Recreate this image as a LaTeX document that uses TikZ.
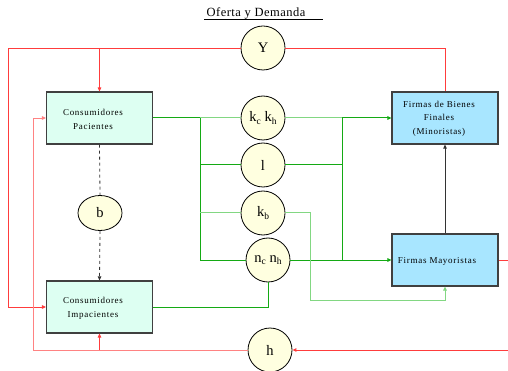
\documentclass[tikz,border=0pt]{standalone}
\usepackage{fontspec}
\setmainfont{Liberation Serif}
\usetikzlibrary{arrows.meta,shapes.geometric}
\definecolor{cfill}{RGB}{221,255,242}
\definecolor{ffill}{RGB}{168,230,255}
\definecolor{yfill}{RGB}{255,255,224}
\definecolor{gdark}{RGB}{20,170,20}
\definecolor{glight}{RGB}{130,215,130}
\definecolor{rdark}{RGB}{255,60,60}
\definecolor{rlight}{RGB}{255,130,130}
\newfontfamily\boxfont[LetterSpace=8]{Liberation Serif}
\newfontfamily\titfont[LetterSpace=4]{Liberation Serif}
\newcommand{\sbs}[1]{\raisebox{-0.35ex}{\fontsize{9.5}{9.5}\selectfont #1}}
\begin{document}
\begin{tikzpicture}[x=1pt,y=-1pt,
  box/.style={draw=black!75,line width=1.1pt,minimum width=106pt,minimum height=52pt,inner sep=0pt},
  cbox/.style={box,fill=cfill},
  fbox/.style={box,fill=ffill},
  btext/.style={font=\boxfont\fontsize{9}{13.5}\selectfont,align=center,inner sep=0pt},
  circ/.style={circle,draw=black,line width=0.8pt,fill=yfill,minimum size=44pt,inner sep=0pt,font=\fontsize{14.5}{14.5}\selectfont},
  gd/.style={draw=gdark,line width=1pt},
  gl/.style={draw=glight,line width=1pt},
  rd/.style={draw=rdark,line width=0.9pt},
  rl/.style={draw=rlight,line width=0.9pt},
  tip/.style={-{Triangle[length=4pt,width=3.5pt]}}]
\useasboundingbox (0,0) rectangle (508,371);
% title
\node[font=\titfont\fontsize{12.5}{12.5}\selectfont,inner sep=0pt] (title) at (256,13) {Oferta y Demanda};
\coordinate (ul1) at (204,19.5);
\coordinate (ul2) at (323,19.5);
\draw[line width=0.7pt] (ul1) -- (ul2);
% boxes
\node[cbox] (cp) at (99.5,118) {};
\node[btext] (cpt) at (93,119.5) {Consumidores\\ Pacientes};
\node[cbox] (ci) at (99.5,307) {};
\node[btext] (cit) at (93,308.5) {Consumidores\\ Impacientes};
\node[fbox] (ff) at (445,118) {};
\node[btext] (fft) at (439,118.5) {Firmas de Bienes\\ Finales\\ (Minoristas)};
\node[fbox] (fm) at (445,260) {};
\node[btext] (fmt) at (437,261) {Firmas Mayoristas};
% circles
\node[circ] (Y) at (263,48) {Y};
\node[circ] (kk) at (263,118) {k\sbs{c} k\sbs{h}};
\node[circ] (l) at (263,165) {l};
\node[circ] (kb) at (263,213) {k\sbs{b}};
\node[circ] (nn) at (268,260) {n\sbs{c} n\sbs{h}};
\node[circ] (h) at (270,350) {h};
\node[ellipse,draw=black,line width=0.8pt,fill=yfill,minimum width=44pt,minimum height=35pt,inner sep=0pt,font=\fontsize{14.5}{14.5}\selectfont] (b) at (100,213) {b};
% junctions
\coordinate (ja) at (200,118);
\coordinate (jb) at (200,260);
\coordinate (jc) at (342,118);
\coordinate (jd) at (342,260);
\coordinate (ke) at (310,300);
\coordinate (r1) at (8,48);
\coordinate (r2) at (33,350);
\coordinate (r3) at (511,260);
\coordinate (r4) at (511,350);
% green connectors
\draw[gd] (cp.east) -- (ja);
\draw[gl] (ja) -- (kk.west);
\draw[gd] (ja) -- (jb) -- (nn.west);
\draw[gd] (l.west -| ja) -- (l.west);
\draw[gl] (kb.west -| ja) -- (kb.west);
\draw[gl] (kk.east) -- (jc);
\draw[gd,tip] (jc) -- (ff.west);
\draw[gd] (l.east) -- (l.east -| jc) -- (jc);
\draw[gd] (jd) -- (l.east -| jc);
\draw[gd,tip] (nn.east) -- (fm.west);
\draw[gl,tip] (kb.east) -| (ke) -| (fm.south);
\draw[gd] (ci.east) -| (nn.south);
% red connectors
\draw[rd,tip] (Y.west) -- (r1) |- (ci.west);
\draw[rd,tip] (Y.west -| cp.north) -- (cp.north);
\draw[rd] (Y.east) -| (ff.north);
\draw[rl,tip] (h.west) -- (r2) |- (cp.west);
\draw[rd,tip] (h.west -| ci.south) -- (ci.south);
\draw[rd] (fm.east) -- (r3) -- (r4);
\draw[rd,tip] (r4) -- (h.east);
% black connectors
\draw[black!80,line width=0.8pt,dashed] (cp.south) -- (b.north);
\draw[black!80,line width=0.8pt,dashed,tip] (b.south) -- (ci.north);
\draw[black!80,line width=0.8pt,tip] (fm.north) -- (ff.south);
\end{tikzpicture}
\end{document}
